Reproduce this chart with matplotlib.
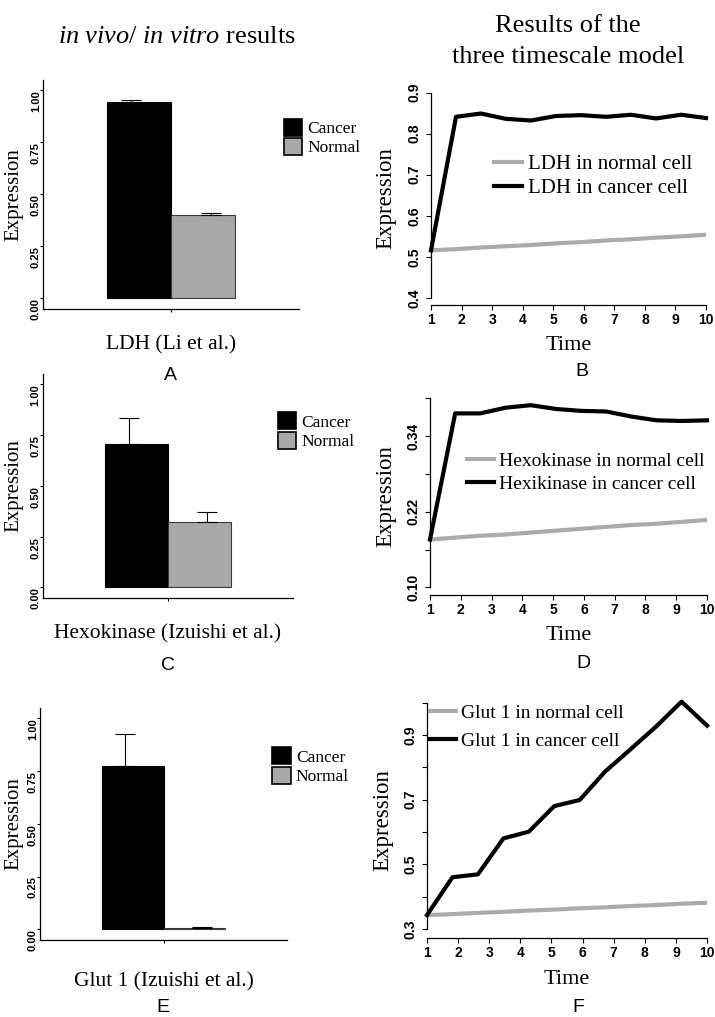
import matplotlib
matplotlib.use("Agg")
import matplotlib.pyplot as plt
from matplotlib.patches import Patch
from matplotlib.lines import Line2D

plt.rcParams['mathtext.fontset'] = 'custom'
plt.rcParams['mathtext.it'] = 'Liberation Serif:italic'
plt.rcParams['mathtext.rm'] = 'Liberation Serif'

# ---- data ----
groups = ["Cancer", "Normal"]

ldh_bar = [0.944, 0.400]
ldh_err = [0.008, 0.011]
hk_bar = [0.707, 0.324]
hk_err = [0.126, 0.049]
glut_bar = [0.775, 0.008]
glut_err = [0.150, 0.002]

time = [1.0, 1.818, 2.636, 3.455, 4.273, 5.091, 5.909, 6.727, 7.545, 8.364, 9.182, 10.0]

ldh_cancer = [0.516, 0.841, 0.849, 0.836, 0.832, 0.843, 0.845, 0.841, 0.846, 0.837, 0.846, 0.838]
ldh_normal = [0.516, 0.519, 0.523, 0.526, 0.529, 0.533, 0.536, 0.540, 0.543, 0.547, 0.550, 0.554]

hk_cancer = [0.176, 0.376, 0.376, 0.385, 0.389, 0.383, 0.380, 0.379, 0.371, 0.365, 0.364, 0.365]
hk_normal = [0.176, 0.179, 0.182, 0.184, 0.187, 0.190, 0.193, 0.196, 0.199, 0.201, 0.204, 0.207]

glut_cancer = [0.343, 0.460, 0.469, 0.580, 0.601, 0.680, 0.699, 0.787, 0.856, 0.926, 1.003, 0.929]
glut_normal = [0.343, 0.346, 0.350, 0.353, 0.357, 0.360, 0.364, 0.367, 0.371, 0.374, 0.378, 0.381]

bar_yticks = [0.0, 0.25, 0.5, 0.75, 1.0]
bar_yticklabels = ["0.00", "0.25", "0.50", "0.75", "1.00"]
time_ticks = [1, 2, 3, 4, 5, 6, 7, 8, 9, 10]

W, H = 715, 1017
GREY = '#a8a8a8'
LINEGREY = '#ababab'
SERIF = 'Liberation Serif'
NARROW = ['Liberation Sans Narrow', 'Liberation Sans', 'DejaVu Sans']

fig = plt.figure(figsize=(W / 100, H / 100), dpi=100)


def px_axes(l, t, r, b):
    return fig.add_axes([l / W, 1 - b / H, (r - l) / W, (b - t) / H])


def bar_panel(rect, vals, errs, xlabel, xpad):
    ax = px_axes(*rect)
    l, r = rect[0], rect[2]
    pos = [-0.5, 0.5]
    ax.bar(pos, vals, width=1.0, color=['black', GREY],
           edgecolor=['black', '#3a3a3a'], linewidth=0.8, zorder=2)
    ax.errorbar([p * 1.24 for p in pos], vals, yerr=[[0, 0], errs], fmt='none',
                ecolor='black', elinewidth=0.8, capsize=7.5, capthick=0.8, zorder=3)
    ax.set_xlim(-2, 2)
    ax.set_ylim(-0.05, 1.05)
    for s in ['top', 'right']:
        ax.spines[s].set_visible(False)
    for s in ['left', 'bottom']:
        ax.spines[s].set_linewidth(0.9)
    ax.set_xticks([0])
    ax.set_xticklabels([])
    ax.set_yticks(bar_yticks)
    ax.set_yticklabels(bar_yticklabels, fontsize=8, fontweight='bold',
                       family='Liberation Sans', rotation=90)
    for lbl in ax.get_yticklabels():
        lbl.set_rotation_mode('anchor')
        lbl.set_ha('right')
        lbl.set_va('baseline')
    ax.tick_params(axis='both', length=2.5, width=0.8, pad=0.5)
    ax.set_ylabel('Expression', family=SERIF, fontsize=15)
    ax.yaxis.set_label_coords((23.5 - l) / (r - l), 0.5)
    ax.set_xlabel(xlabel, family=SERIF, fontsize=15.5, labelpad=xpad)
    handles = [Patch(facecolor='black', edgecolor='black', linewidth=1.2),
               Patch(facecolor=GREY, edgecolor='black', linewidth=1.2)]
    ax.legend(handles, groups, loc='upper left', bbox_to_anchor=(0.94, 0.83),
              frameon=False, prop={'family': SERIF, 'size': 12.5},
              handlelength=1.05, handleheight=1.15, handletextpad=0.3,
              labelspacing=0.05, borderpad=0, borderaxespad=0)
    return ax


def line_panel(rect, normal, cancer, ylim, yticks, ylabels, names,
               leg_anchor, leg_space, leg_size, ylab_right):
    ax = px_axes(*rect)
    l, r = rect[0], rect[2]
    ax.plot(time, normal, color=LINEGREY, lw=3, clip_on=False, label=names[0],
            solid_capstyle='butt')
    ax.plot(time, cancer, color='black', lw=3, clip_on=False, label=names[1],
            solid_joinstyle='round')
    ax.set_xlim(1, 10)
    ax.set_ylim(*ylim)
    for s in ['top', 'right']:
        ax.spines[s].set_visible(False)
    ax.spines['left'].set_bounds(yticks[0], yticks[-1])
    ax.spines['bottom'].set_bounds(1, 10)
    for s in ['left', 'bottom']:
        ax.spines[s].set_linewidth(0.9)
    ax.set_xticks(time_ticks)
    ax.set_xticklabels([str(t) for t in time_ticks], fontsize=10,
                       fontweight='bold', family=NARROW)
    ax.set_yticks(yticks)
    ax.set_yticklabels(ylabels, fontsize=10, fontweight='bold', family=NARROW,
                       rotation=90, va='center')
    ax.tick_params(axis='y', length=3.5, width=0.8, pad=3)
    ax.tick_params(axis='x', length=3.5, width=0.8, pad=2)
    ax.set_ylabel('Expression', family=SERIF, fontsize=16.5)
    ax.yaxis.set_label_coords((ylab_right - l) / (r - l), 0.5)
    ax.set_xlabel('Time', family=SERIF, fontsize=16, labelpad=7)
    handles = [Line2D([0], [0], color=LINEGREY, lw=3), Line2D([0], [0], color='black', lw=3)]
    ax.legend(handles, names, loc='upper left', bbox_to_anchor=leg_anchor,
              frameon=False, prop={'family': SERIF, 'size': leg_size},
              handlelength=1.35, handletextpad=0.25, labelspacing=leg_space,
              borderpad=0, borderaxespad=0)
    return ax


# left column: experimental bars
bar_panel((43, 79.6, 299, 308.7), ldh_bar, ldh_err, 'LDH (Li et al.)', 16)
bar_panel((42.7, 374.2, 293.3, 597.6), hk_bar, hk_err, 'Hexokinase (Izuishi et al.)', 16)
bar_panel((40, 707.8, 287.3, 939.8), glut_bar, glut_err, 'Glut 1 (Izuishi et al.)', 20)

# right column: model time courses
line_panel((431, 90.5, 706, 305), ldh_normal, ldh_cancer, (0.383, 0.905),
           [0.4, 0.5, 0.6, 0.7, 0.8, 0.9], ['0.4', '0.5', '0.6', '0.7', '0.8', '0.9'],
           ['LDH in normal cell', 'LDH in cancer cell'], (0.23, 0.70), 0.2, 15, 396)
line_panel((430, 397, 707, 595), hk_normal, hk_cancer, (0.088, 0.402),
           [0.10, 0.16, 0.22, 0.28, 0.34, 0.40], ['0.10', '', '0.22', '', '0.34', ''],
           ['Hexokinase in normal cell', 'Hexikinase in cancer cell'], (0.135, 0.72), 0.25, 14, 396)
line_panel((427, 701, 707, 938.3), glut_normal, glut_cancer, (0.2712, 1.005),
           [0.3, 0.4, 0.5, 0.6, 0.7, 0.8, 0.9, 1.0], ['0.3', '', '0.5', '', '0.7', '', '0.9', ''],
           ['Glut 1 in normal cell', 'Glut 1 in cancer cell'], (0.01, 0.985), 0.5, 14, 393)

# column headings
fig.text(177 / W, 1 - 43 / H, r'$\mathit{in\ vivo/\ in\ vitro}$ results',
         family=SERIF, fontsize=19, ha='center', va='baseline')
fig.text(568 / W, 1 - 32 / H, 'Results of the', family=SERIF, fontsize=19,
         ha='center', va='baseline')
fig.text(568 / W, 1 - 63 / H, 'three timescale model', family=SERIF, fontsize=19,
         ha='center', va='baseline')

# panel letters
letters = ['A', 'B', 'C', 'D', 'E', 'F']
letter_xy = [(170, 375), (582, 372), (168, 665), (583, 664), (163, 1008), (578, 1007)]
for let, (lx, ly) in zip(letters, letter_xy):
    fig.text(lx / W, 1 - ly / H, let, family='Liberation Sans', fontsize=14,
             ha='center', va='center')

fig.savefig('out.png', dpi=100)
